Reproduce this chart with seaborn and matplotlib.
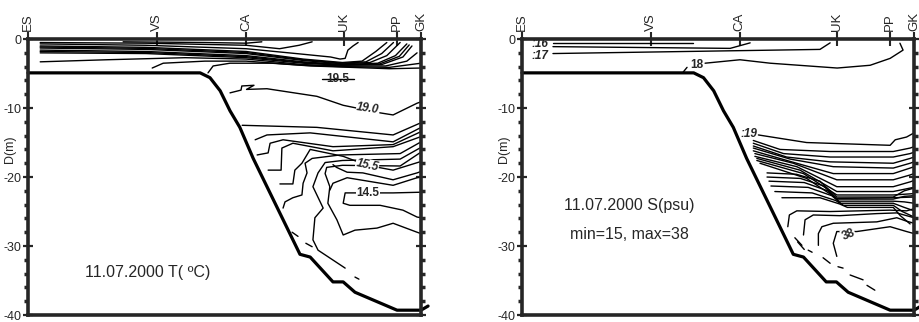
import matplotlib
matplotlib.use("Agg")
import matplotlib.pyplot as plt
import numpy as np
import pandas as pd
import seaborn as sns
from matplotlib.ticker import MultipleLocator, NullLocator

# stations along the transect (distance, arbitrary 0-100 units)
STATION_NAMES = ["ES", "VS", "CA", "UK", "PP", "GK"]
STATION_X = [0, 32.8, 55.5, 80.3, 93.8, 100]

# bottom profile (distance, depth m)
BATHY_X = [0, 43.8, 46.3, 48.9, 51.4, 53.9, 57.3, 69.2, 71.8, 77.6, 80.2, 83.2, 93.9, 100, 101.8]
BATHY_D = [-4.9, -4.9, -5.6, -7.5, -10.4, -12.8, -17.3, -31.2, -31.6, -35.2, -35.2, -36.7, -39.3, -39.3, -38.7]

# ---- temperature isolines (distance, depth)
T_B1 = [(24.2, -0.4), (45.0, -0.5), (55.5, -0.6), (59.5, -0.4)]
T_B2 = [(3.1, -0.5), (30, -0.6), (55.5, -0.9), (64.0, -1.4), (69.0, -0.9), (72.3, -0.4)]
T_B3 = [(3.1, -0.7), (30, -0.9), (55.5, -1.4), (70, -2.2), (77, -2.6), (79.4, -2.9),
        (80.7, -2.8), (81.4, -1.6), (82.7, -1.0), (84, -0.5)]
T_B4 = [(3.1, -1.0), (30, -1.2), (55.5, -1.8), (70, -2.9), (80, -3.4), (85, -3.2), (88.5, -1.8), (91.3, -0.5)]
T_B4B = [(3.1, -1.15), (30, -1.35), (55.5, -1.95), (70, -3.0), (80, -3.5), (86, -3.3), (90, -2.1), (93, -0.5)]
T_B5 = [(3.1, -1.3), (30, -1.5), (55.5, -2.1), (70, -3.1), (80, -3.6), (87, -3.4), (91.3, -2.4), (94.7, -0.5)]
T_B6 = [(3.1, -1.6), (30, -1.8), (55.5, -2.4), (70, -3.3), (80, -3.7), (89, -3.5), (93.5, -2.4), (96.4, -0.7)]
T_B6B = [(3.1, -1.8), (30, -1.95), (55.5, -2.55), (70, -3.4), (80, -3.75), (89.5, -3.6), (94.5, -2.5), (97, -0.85)]
T_B7 = [(3.1, -2.0), (30, -2.1), (55.5, -2.7), (70, -3.5), (80, -3.8), (90, -3.7), (95.4, -2.6), (97.7, -1.0)]
T_B8 = [(3.1, -3.3), (20, -3.0), (40, -2.7), (55.5, -2.9), (70, -3.7), (80, -3.9), (91, -3.9), (96.4, -3.2), (99, -2.0)]
T_B9 = [(31.6, -4.2), (34.4, -3.5), (45, -3.2), (55.5, -3.2), (70, -3.8), (80, -4.0), (92, -4.1), (100, -3.5)]
T_B10 = [(45.8, -4.9), (47.1, -3.9), (51.4, -3.5), (62, -3.5), (72, -3.9), (82, -4.1), (92, -4.3), (100, -4.2)]
T_195 = [(74.8, -5.8), (83.0, -5.8)]
T_190 = [(51.4, -7.8), (54.2, -7.4), (54.4, -6.8), (57.5, -6.7), (55.6, -7.3), (60.8, -7.2),
         (73.5, -8.3), (80.2, -9.6), (89.6, -10.7), (92.9, -11.0), (99, -9.3), (100, -9.1)]
T_D1 = [(54.5, -12.5), (73.5, -12.8), (92.9, -13.9), (99.7, -12.2)]
T_D2 = [(57.8, -14.6), (60.8, -13.9), (71.8, -13.6), (92.9, -14.9), (99.7, -12.9)]
T_D3 = [(58.3, -16.8), (61.1, -16.5), (61.6, -15.1), (64.9, -14.6), (77.6, -15.6), (92.9, -15.3), (99.7, -13.5)]
T_D4 = [(61.1, -19.0), (64.4, -19.0), (64.6, -15.8), (67.4, -15.1), (77.6, -16.2), (92.9, -15.6), (99.7, -14.2)]
T_155 = [(64.1, -21.0), (67.4, -21.0), (67.9, -19.0), (69.7, -18.0), (71.8, -16.0), (80.2, -17.0),
         (86.3, -18.3), (92.9, -19.0), (99.7, -17.8)]
T_D6 = [(64.9, -24.5), (65.4, -23.6), (67.4, -23.0), (69.7, -22.6), (70.0, -20.9), (71.0, -19.4),
        (70.5, -18.0), (72.3, -17.3), (79.4, -16.8), (94.7, -16.6), (99.7, -15.0)]
T_D7 = [(99.7, -15.8), (94.7, -17.4), (80.0, -17.6), (75.6, -17.9), (73.8, -19.4), (72.5, -21.4),
        (75.1, -24.5), (73.0, -25.9), (72.5, -29.1), (73.8, -30.6), (80.7, -33.2)]
T_D8 = [(99.7, -16.5), (94.7, -18.4), (80, -18.3), (76, -18.6), (75.6, -19.5), (76.8, -21.4), (76.3, -23.8),
        (78.6, -26.2), (80.2, -28.4), (83.2, -27.7), (88.8, -27.4), (92.9, -26.7), (99, -28.0), (100, -28.2)]
T_D9 = [(100, -19.2), (99, -19.4), (92.9, -20.4), (85.2, -19.4), (81.2, -19.3), (78.5, -18.6), (77.6, -18.2)]
T_D10 = [(76.8, -21.9), (77.6, -20.9), (81.2, -20.1), (92.9, -21.2), (99, -20.1), (100, -20.0)]
T_145 = [(100, -22.2), (92.9, -22.3), (80.7, -22.3), (80.2, -23.8), (81.9, -24.1), (89.6, -24.1),
         (95.4, -24.8), (99, -25.8), (100, -25.9)]
T_DASH1 = [(67.2, -28.0), (68.7, -28.6)]
T_DASH2 = [(70.7, -29.6), (72.3, -30.1)]
T_DASH3 = [(83.2, -34.5), (84.2, -34.8)]

# ---- salinity isolines
S_L1 = [(7.9, -0.6), (43.6, -0.6)]
S_L2 = [(7.9, -1.1), (53.1, -1.35), (58.2, -0.55)]
S_L3 = [(7.9, -2.1), (76.0, -1.5), (78.6, -0.55)]
S_18 = [(46.7, -3.5), (55.6, -3.0), (63.3, -3.5), (80.4, -4.2), (88.8, -3.8), (93.9, -2.8), (97.2, -1.6), (96.4, -0.6)]
S_18TICK = [(41.1, -4.8), (42.1, -4.1)]
S_19 = [(60.3, -13.9), (72.6, -15.0), (93.9, -15.4), (95.2, -14.6), (98.1, -14.2), (100, -13.6)]
S_B = [(59.0, -14.7), (65.8, -16.0), (78.6, -16.3), (94.7, -16.3), (99.0, -15.8), (100, -15.6)]
S_C = [(59.0, -15.1), (66.7, -16.6), (78.6, -17.1), (94.7, -17.1), (99.0, -16.6), (100, -16.4)]
S_D = [(59.0, -15.5), (67.5, -17.1), (78.6, -17.8), (94.7, -18.0), (99.0, -17.3), (100, -17.1)]
S_E = [(59.0, -15.8), (68.4, -17.4), (79.4, -18.5), (94.7, -18.7), (99.0, -18.0), (100, -17.8)]
S_F = [(59.0, -16.2), (68.8, -17.8), (79.4, -19.5), (94.7, -19.5), (99.0, -18.7), (100, -18.5)]
S_G = [(59.4, -16.6), (69.2, -18.0), (80.3, -20.4), (94.7, -20.4), (99.0, -19.7), (100, -19.5)]
S_H = [(59.4, -17.0), (70.1, -18.5), (80.3, -21.4), (94.7, -21.4), (99.0, -20.7), (100, -20.5)]
S_I = [(59.9, -17.3), (70.9, -19.0), (80.3, -22.1), (94.7, -22.1), (99.0, -21.6), (100, -21.5)]
S_J = [(59.9, -17.6), (71.8, -19.5), (80.3, -22.6), (94.7, -22.6), (100, -22.4)]
S_K = [(60.7, -18.0), (72.6, -20.2), (80.3, -23.1), (94.7, -23.0), (100, -22.9)]
S_L4 = [(62.5, -19.4), (70, -19.6), (76, -20.6), (80.3, -22.9), (94.7, -22.9), (97.5, -22.0), (100, -21.6)]
S_L5 = [(62.5, -20.0), (71, -20.2), (77, -21.3), (80.3, -23.2), (94.7, -23.2), (97.5, -22.8), (100, -22.7)]
S_L6 = [(63, -20.6), (72, -20.8), (78, -22.0), (80.8, -23.5), (94.7, -23.5), (97.5, -23.6), (100, -23.8)]
S_L7 = [(63.5, -21.3), (73, -21.5), (79, -22.7), (81.3, -23.8), (94.7, -23.8), (97.5, -24.4), (100, -24.9)]
S_L8 = [(64.5, -22.1), (74, -22.3), (80, -23.4), (82, -24.1), (94.7, -24.1), (97, -25.0), (100, -25.8)]
S_L9 = [(66.3, -23.0), (76, -23.0), (81, -23.9), (83, -24.4), (94.7, -24.4), (96.5, -25.6), (99, -26.8)]
S_M1 = [(67.8, -27.2), (68.2, -25.5), (70.1, -24.9), (78.6, -25.0), (93.9, -24.8), (98.1, -24.9), (100, -24.6)]
S_M2 = [(71.8, -28.4), (72.2, -26.2), (74.3, -25.5), (81.1, -25.6), (90.5, -25.3), (95.6, -25.2), (98.1, -25.6), (100, -25.9)]
S_M3 = [(75.6, -29.9), (75.6, -28.2), (76.5, -27.2), (79.4, -26.7), (90.5, -26.5), (95.6, -25.9), (98.1, -26.4), (100, -26.7)]
S_38 = [(80.3, -31.5), (79.4, -29.6), (80.3, -27.9), (85.4, -27.9), (93.9, -27.2), (98.1, -27.9), (100, -28.2)]
S_DASH1 = [(69.6, -28.8), (71.4, -29.9)]
S_DASH2 = [(70.3, -29.4), (72.0, -30.5)]
S_DASH3 = [(73.0, -30.6), (74.0, -30.9)]
S_DASH4 = [(76.8, -31.7), (78.6, -32.5)]
S_DASH5 = [(80.6, -33.0), (81.9, -33.2)]
S_DASH6 = [(83.7, -34.2), (87.0, -34.9)]
S_DASH7 = [(88.0, -35.7), (90.0, -36.4)]

T_LINES = [T_B1, T_B2, T_B3, T_B4, T_B4B, T_B5, T_B6, T_B6B, T_B7, T_B8, T_B9, T_B10, T_195, T_190,
           T_D1, T_D2, T_D3, T_D4, T_155, T_D6, T_D7, T_D8, T_D9, T_D10, T_145,
           T_DASH1, T_DASH2, T_DASH3]
S_LINES = [S_L1, S_L2, S_L3, S_18, S_18TICK, S_19, S_B, S_C, S_D, S_E, S_F, S_G, S_H, S_I, S_J, S_K,
           S_L4, S_L5, S_L6, S_L7, S_L8, S_L9, S_M1, S_M2, S_M3, S_38,
           S_DASH1, S_DASH2, S_DASH3, S_DASH4, S_DASH5, S_DASH6, S_DASH7]


def lines_frame(lines):
    rows = []
    for i, ln in enumerate(lines):
        for x, d in ln:
            rows.append({"dist": x, "depth": d, "unit": i})
    return pd.DataFrame(rows)


def style_axes(ax):
    ax.set_xlim(0, 100)
    ax.set_ylim(-40, 0)
    ax.xaxis.tick_top()
    ax.set_xticks(STATION_X)
    ax.set_xticklabels(STATION_NAMES, rotation=90, fontsize=9.5)
    ax.xaxis.set_minor_locator(NullLocator())
    ax.tick_params(axis="x", which="major", direction="inout", length=10, width=1.5,
                   top=True, bottom=False, pad=1)
    ax.yaxis.set_major_locator(MultipleLocator(10))
    ax.yaxis.set_minor_locator(MultipleLocator(2))
    ax.tick_params(axis="y", which="major", direction="inout", length=7, width=1.6,
                   left=True, right=True, labelsize=9, pad=1)
    ax.tick_params(axis="y", which="minor", direction="out", length=3, width=2.5,
                   left=True, right=True)
    ax.set_xlabel("")
    ax.set_ylabel("D(m)", fontsize=9)
    ax.yaxis.set_label_coords(-0.03, 0.6)
    for sp in ax.spines.values():
        sp.set_linewidth(2.6)
        sp.set_visible(True)


def draw_section(ax, lines):
    sns.lineplot(data=lines_frame(lines), x="dist", y="depth", units="unit", estimator=None,
                 sort=False, color="black", lw=1.0, ax=ax, legend=False)
    sns.lineplot(x=BATHY_X, y=BATHY_D, estimator=None, sort=False, color="black", lw=2.3, ax=ax)
    ax.lines[-1].set_clip_on(False)
    style_axes(ax)


sns.set_theme(style="ticks")
plt.rcParams["font.family"] = ["Liberation Sans", "DejaVu Sans"]
plt.rcParams["axes.unicode_minus"] = False

fig = plt.figure(figsize=(9.19, 3.22), dpi=100)
ax_t = fig.add_axes([0.0305, 0.0217, 0.4276, 0.857])
ax_s = fig.add_axes([0.568, 0.0217, 0.4266, 0.857])

draw_section(ax_t, T_LINES)
draw_section(ax_s, S_LINES)

lab = dict(fontsize=8.5, fontweight="bold", ha="center", va="center", zorder=5)
box = dict(facecolor="white", edgecolor="none", pad=0.3)
ax_t.text(78.9, -5.8, "19.5", **lab)
ax_t.text(86.5, -10.1, "19.0", style="italic", rotation=-8, bbox=box, **lab)
ax_t.text(86.3, -18.3, "15.5", style="italic", rotation=-12, bbox=box, **lab)
ax_t.text(86.5, -22.3, "14.5", bbox=box, **lab)
ax_t.text(30.5, -33.8, "11.07.2000 T( \u00baC)", fontsize=11.5, ha="center", va="center")

ax_s.text(4.6, -0.7, ":16", style="italic", **lab)
ax_s.text(4.6, -2.4, ":17", style="italic", **lab)
ax_s.text(44.6, -3.8, "18", **lab)
ax_s.text(58.0, -13.7, ":19", style="italic", **lab)
ax_s.text(83.2, -28.3, "38", rotation=22, bbox=box, **lab)
ax_s.text(27.3, -24.1, "11.07.2000 S(psu)", fontsize=11.5, ha="center", va="center")
ax_s.text(27.3, -28.4, "min=15, max=38", fontsize=11.5, ha="center", va="center")

fig.savefig("out.png", dpi=100)
